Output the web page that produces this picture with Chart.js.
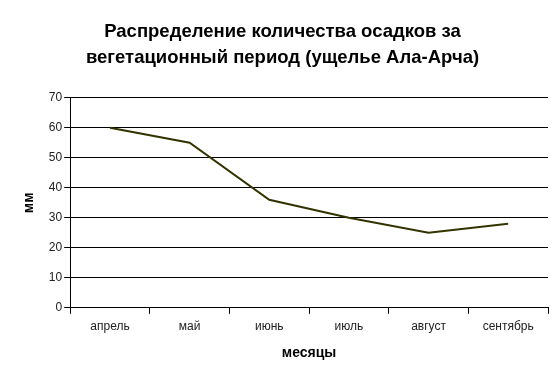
<!DOCTYPE html>
<html>
<head>
<meta charset="utf-8">
<script src="https://cdn.jsdelivr.net/npm/chart.js@4"></script>
<style>
  html, body { margin: 0; padding: 0; background: #fff; }
  #wrap { width: 560px; height: 379px; position: relative; }
</style>
</head>
<body>
<div id="wrap"><canvas id="chart_rain"></canvas></div>
<script>
const months = ["апрель", "май", "июнь", "июль", "август", "сентябрь"]
const rainfall = [60, 55, 36, 30, 25, 28]
const yTicks = [0, 10, 20, 30, 40, 50, 60, 70]

const baseFont = "'Liberation Sans', Arial, sans-serif"

let chart1 = new Chart(document.getElementById('chart_rain'), {
    type: 'line',
    data: {
        labels: months,
        datasets: [{
            label: "осадки",
            data: rainfall,
            borderColor: "#333300",
            borderWidth: 2,
            pointRadius: 0,
            tension: 0,
            fill: false
        }]
    },
    options: {
        responsive: true,
        maintainAspectRatio: false,
        animation: false,
        layout: { padding: { left: 17, right: 12, top: 6, bottom: 13 } },
        plugins: {
            legend: { display: false },
            tooltip: { enabled: false },
            title: {
                display: true,
                text: ["Распределение количества осадков за", "вегетационный период (ущелье Ала-Арча)"],
                color: "#000",
                font: { family: baseFont, size: 18.5, weight: 'bold', lineHeight: 1.4 },
                padding: { top: 13, bottom: 27 }
            }
        },
        scales: {
            x: {
                offset: true,
                grid: { display: true, drawOnChartArea: false, drawTicks: true, tickLength: 6, color: "#000", offset: true },
                border: { color: "#000", width: 1 },
                ticks: { color: "#222", font: { family: baseFont, size: 12 }, padding: 6, maxRotation: 0 },
                title: { display: true, text: "месяцы", color: "#000", font: { family: baseFont, size: 14, weight: 'bold' }, padding: { top: 5 } }
            },
            y: {
                min: 0,
                max: 70,
                afterBuildTicks: axis => { axis.ticks = yTicks.map(v => ({ value: v })) },
                grid: { color: "#000", tickLength: 6, drawTicks: true },
                border: { color: "#000", width: 1 },
                ticks: { color: "#222", font: { family: baseFont, size: 12 }, padding: 2 },
                title: { display: true, text: "мм", color: "#000", font: { family: baseFont, size: 14, weight: 'bold' }, padding: { bottom: 9 } }
            }
        }
    }
})
</script>
</body>
</html>
